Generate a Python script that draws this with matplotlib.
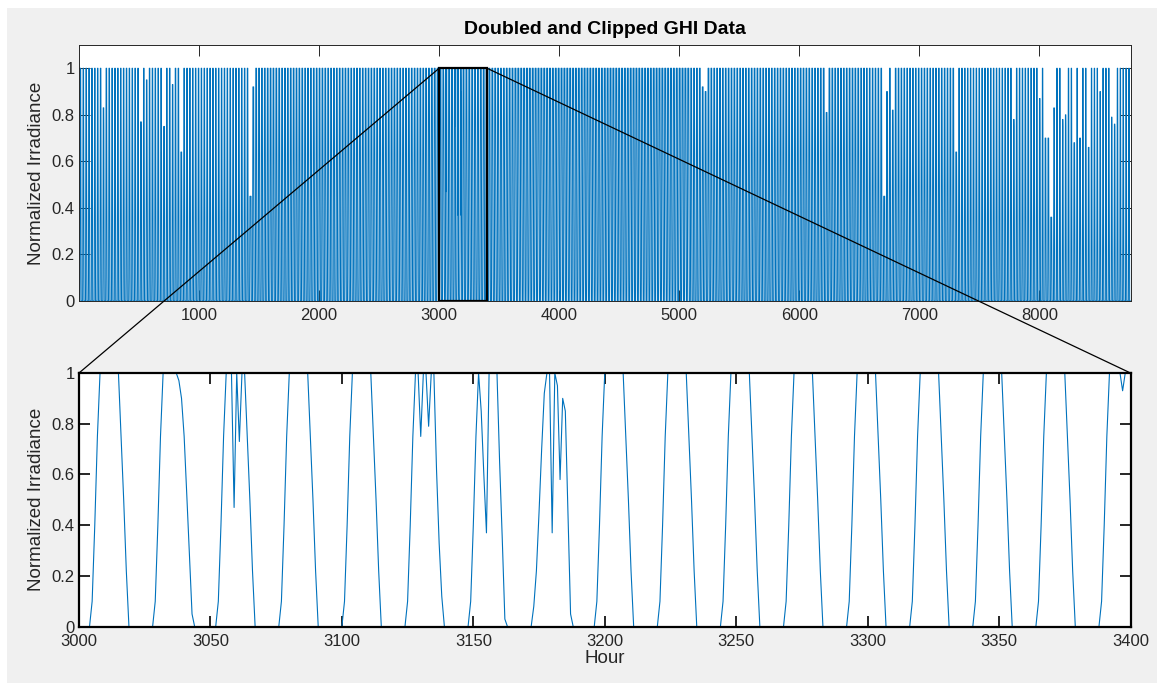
import numpy as np
import matplotlib
matplotlib.use("Agg")
import matplotlib.pyplot as plt
from matplotlib.patches import Rectangle, ConnectionPatch
from matplotlib.ticker import FuncFormatter

plt.rcParams['font.family'] = ['Liberation Sans', 'DejaVu Sans']

# Day profile (doubled GHI, clipped at 1)
MONTH_DAYS = [31, 28, 31, 30, 31, 30, 31, 31, 30, 31, 30, 31]
DAWN_HOUR = [6, 6, 5, 5, 4, 4, 4, 5, 5, 5, 6, 6]        # last dark hour before sunrise
DUSK_HOUR = [18, 18, 19, 19, 19, 20, 20, 19, 19, 18, 18, 17]  # first dark hour after sunset
RAMP_UP = [0.1, 0.4, 0.75]
RAMP_DOWN = [0.75, 0.5, 0.22]

# Days (0-based) whose peak stays below the clip level
CLOUDY_DAYS = [8, 21, 23, 29, 32, 35, 59, 60, 216, 217, 259, 279, 280, 282, 304,
               324, 333, 335, 336, 337, 338, 341, 342, 345, 347, 350, 354, 358, 359]
CLOUDY_PEAK = [0.83, 0.77, 0.95, 0.75, 0.93, 0.64, 0.45, 0.92, 0.92, 0.9, 0.81, 0.45, 0.9, 0.82, 0.64,
               0.78, 0.87, 0.7, 0.7, 0.36, 0.83, 0.78, 0.8, 0.68, 0.7, 0.66, 0.9, 0.79, 0.76]

# Hour-level values read from the 3000-3400 zoom
DETAIL_HOURS = [3037, 3038, 3039, 3040, 3041, 3042, 3043,
                3059, 3061,
                3130, 3133, 3136, 3137, 3138,
                3153, 3154, 3155, 3160, 3161, 3162,
                3173, 3174, 3175, 3176, 3177, 3180, 3182, 3183, 3184, 3185, 3186, 3187,
                3397, 3398, 3399, 3400]
DETAIL_VALUES = [1.0, 0.97, 0.9, 0.75, 0.52, 0.28, 0.05,
                 0.47, 0.73,
                 0.75, 0.79, 0.62, 0.33, 0.12,
                 0.85, 0.6, 0.37, 0.65, 0.35, 0.03,
                 0.08, 0.22, 0.45, 0.7, 0.92, 0.37, 0.95, 0.58, 0.9, 0.85, 0.45, 0.05,
                 0.93, 1.0, 1.0, 1.0]

# build the hourly series
day_month = np.repeat(np.arange(12), MONTH_DAYS)
peaks = np.ones(365)
peaks[CLOUDY_DAYS] = CLOUDY_PEAK
days = []
for d in range(365):
    m = day_month[d]
    dawn, dusk = DAWN_HOUR[m], DUSK_HOUR[m]
    day = np.zeros(24)
    day[dawn + 1:dawn + 4] = RAMP_UP
    day[dawn + 4:dusk - 3] = 1.0
    day[dusk - 3:dusk] = RAMP_DOWN
    days.append(np.minimum(day, peaks[d]))
ghi = np.concatenate(days)
ghi[DETAIL_HOURS] = DETAIL_VALUES
hours = np.arange(len(ghi))

W, H = 1157, 683
fig = plt.figure(figsize=(W / 100, H / 100), dpi=100)
fig.patch.set_facecolor('white')
fig.add_artist(Rectangle((7 / W, 0), 1 - 7 / W, 1 - 8 / H, transform=fig.transFigure,
                         facecolor='#f0f0f0', edgecolor='none', zorder=-10))

ax1 = fig.add_axes([79 / W, 1 - 301 / H, (1130.5 - 79) / W, 256 / H])
ax2 = fig.add_axes([79 / W, 1 - 626.7 / H, (1130.5 - 79) / W, 253.7 / H])

blue = '#0072BD'
txt = '#262626'
fmt = FuncFormatter(lambda v, p: '%g' % v)

ax1.plot(hours, ghi, color=blue, lw=0.75)
ax1.set_xlim(0, 8760)
ax1.set_ylim(0, 1.1)
ax1.set_xticks(np.arange(1000, 8001, 1000))
ax1.set_yticks(np.arange(0, 1.01, 0.2))
ax1.yaxis.set_major_formatter(fmt)
ax1.set_ylabel('Normalized Irradiance', fontsize=13.5, color=txt, labelpad=5)
ax1.set_title('Doubled and Clipped GHI Data', fontsize=14, fontweight='bold', pad=8)
ax1.add_patch(Rectangle((3000, 0), 400, 1, fill=False, ec='black', lw=1.6, zorder=3))
for s in ax1.spines.values():
    s.set_linewidth(0.7)
    s.set_color(txt)

ax2.plot(hours, ghi, color=blue, lw=0.8)
ax2.set_xlim(3000, 3400)
ax2.set_ylim(0, 1)
ax2.set_xticks(np.arange(3000, 3401, 50))
ax2.set_yticks(np.arange(0, 1.01, 0.2))
ax2.yaxis.set_major_formatter(fmt)
ax2.set_ylabel('Normalized Irradiance', fontsize=13.5, color=txt, labelpad=5)
ax2.set_xlabel('Hour', fontsize=13.5, color=txt, labelpad=1)
for s in ax2.spines.values():
    s.set_linewidth(1.6)
    s.set_color('black')

for ax, w in ((ax1, 0.7), (ax2, 1.4)):
    ax.set_facecolor('white')
    ax.tick_params(direction='in', top=True, right=True, length=8, width=w,
                   labelsize=12, labelcolor=txt, color=txt)
    ax.tick_params(axis='x', pad=5)
    ax.tick_params(axis='y', pad=3)

# zoom guide lines
for x in (3000, 3400):
    cp = ConnectionPatch(xyA=(x, 1), coordsA=ax2.transData, xyB=(x, 1), coordsB=ax1.transData,
                         color='black', lw=0.9, zorder=5)
    fig.add_artist(cp)

fig.savefig('out.png', dpi=100, facecolor=fig.get_facecolor())
